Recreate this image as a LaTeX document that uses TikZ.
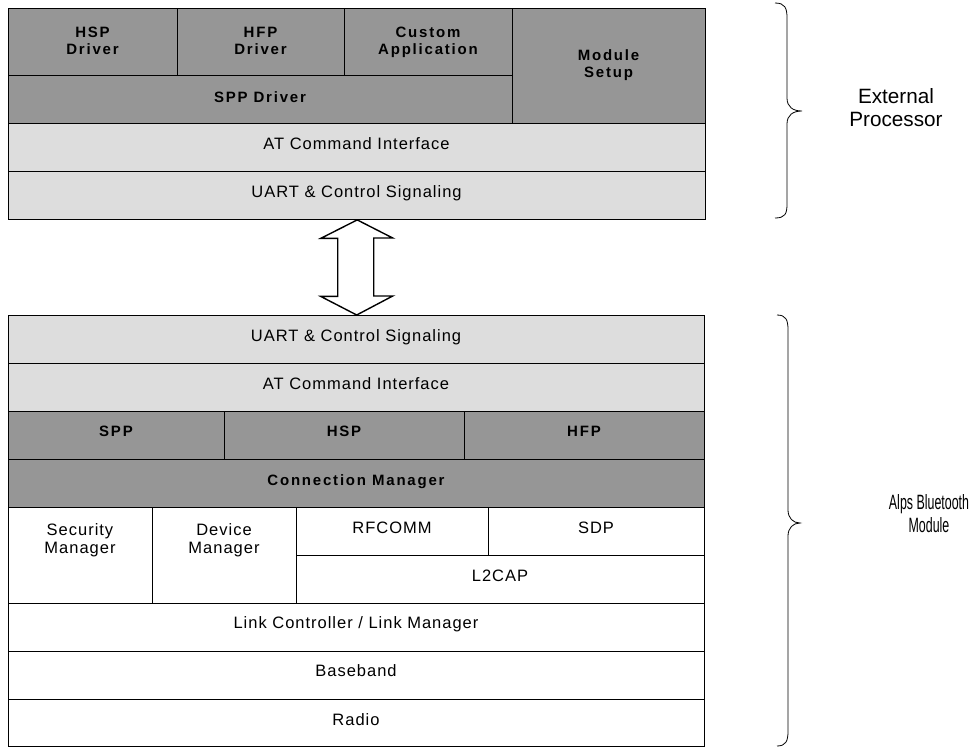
\documentclass[tikz,border=0pt]{standalone}
\usepackage{fontspec}
\setmainfont{Liberation Sans}
\newfontfamily\regbox[LetterSpace=6]{Liberation Sans}
\newfontfamily\boldbox[LetterSpace=12]{Liberation Sans}
\definecolor{darkfill}{RGB}{150,150,150}
\definecolor{lightfill}{RGB}{221,221,221}
\pgfdeclarelayer{background}
\pgfsetlayers{background,main}
\begin{document}
\begin{tikzpicture}[x=1pt,y=-1pt,
  box/.style={draw, line width=1.4pt, inner sep=0pt, anchor=north west},
  dark/.style={box, fill=darkfill},
  light/.style={box, fill=lightfill},
  plain/.style={box, fill=white},
  rtxt/.style={anchor=base, inner sep=0pt, font=\regbox\fontsize{16.5}{18.5}\selectfont},
  btxt/.style={anchor=base, inner sep=0pt, font=\boldbox\bfseries\fontsize{15}{17}\selectfont},
  stxt/.style={anchor=base, inner sep=0pt, font=\fontsize{20.7}{23.4}\selectfont},
  brace/.style={draw, line width=0.8pt},
  link/.style={draw, line width=1.4pt, fill=white, line join=miter}
]
\useasboundingbox (0,0) rectangle (969,747);

% ---------- External processor stack ----------
\node[dark, minimum width=169pt, minimum height=67pt] (hsp) at (8,8) {};
\node[dark, minimum width=167pt, minimum height=67pt] (hfp) at (177,8) {};
\node[dark, minimum width=168pt, minimum height=67pt] (custom) at (344,8) {};
\node[dark, minimum width=193pt, minimum height=115pt] (module) at (512,8) {};
\node[dark, minimum width=504pt, minimum height=48pt] (sppdrv) at (8,75) {};
\node[light, minimum width=697pt, minimum height=48pt] (at1) at (8,123) {};
\node[light, minimum width=697pt, minimum height=47.5pt] (uart1) at (8,171) {};

\node[btxt] (thsp) at (92.5,37) {\begin{tabular}[t]{@{}c@{}}HSP\\Driver\end{tabular}};
\node[btxt] (thfp) at (260.5,37) {\begin{tabular}[t]{@{}c@{}}HFP\\Driver\end{tabular}};
\node[btxt] (tcustom) at (428,37) {\begin{tabular}[t]{@{}c@{}}Custom\\Application\end{tabular}};
\node[btxt] (tmodule) at (608.5,60) {\begin{tabular}[t]{@{}c@{}}Module\\Setup\end{tabular}};
\node[btxt] (tsppdrv) at (260,102) {SPP Driver};
\node[rtxt] (tat1) at (356.5,149) {AT Command Interface};
\node[rtxt] (tuart1) at (356.5,197.5) {UART \& Control Signaling};

% ---------- Alps Bluetooth module stack ----------
\node[light, minimum width=696pt, minimum height=48pt] (uart2) at (8,315) {};
\node[light, minimum width=696pt, minimum height=48pt] (at2) at (8,363) {};
\node[dark, minimum width=216pt, minimum height=48pt] (spp) at (8,411) {};
\node[dark, minimum width=240pt, minimum height=48pt] (hsp2) at (224,411) {};
\node[dark, minimum width=240pt, minimum height=48pt] (hfp2) at (464,411) {};
\node[dark, minimum width=696pt, minimum height=48pt] (cm) at (8,459) {};
\node[plain, minimum width=144pt, minimum height=96pt] (sec) at (8,507) {};
\node[plain, minimum width=144pt, minimum height=96pt] (dev) at (152,507) {};
\node[plain, minimum width=192pt, minimum height=48pt] (rfcomm) at (296,507) {};
\node[plain, minimum width=216pt, minimum height=48pt] (sdp) at (488,507) {};
\node[plain, minimum width=408pt, minimum height=48pt] (l2cap) at (296,555) {};
\node[plain, minimum width=696pt, minimum height=48pt] (lc) at (8,603) {};
\node[plain, minimum width=696pt, minimum height=48pt] (bb) at (8,651) {};
\node[plain, minimum width=696pt, minimum height=46.5pt] (radio) at (8,699) {};

\node[rtxt] (tuart2) at (356,341.7) {UART \& Control Signaling};
\node[rtxt] (tat2) at (356,389.3) {AT Command Interface};
\node[btxt] (tspp) at (116,436.7) {SPP};
\node[btxt] (thsp2) at (344,436.7) {HSP};
\node[btxt] (thfp2) at (584,436.7) {HFP};
\node[btxt] (tcm) at (356,485.7) {Connection Manager};
\node[rtxt] (tsec) at (80,535) {\begin{tabular}[t]{@{}c@{}}Security\\Manager\end{tabular}};
\node[rtxt] (tdev) at (224,535) {\begin{tabular}[t]{@{}c@{}}Device\\Manager\end{tabular}};
\node[rtxt] (trfcomm) at (392,533.3) {RFCOMM};
\node[rtxt] (tsdp) at (596,533.3) {SDP};
\node[rtxt] (tl2cap) at (500,581.7) {L2CAP};
\node[rtxt] (tlc) at (356,628.3) {Link Controller / Link Manager};
\node[rtxt] (tbb) at (356,676.7) {Baseband};
\node[rtxt] (tradio) at (356,725) {Radio};

% ---------- link between the stacks ----------
\begin{pgfonlayer}{background}
\fill[white] (0,0) rectangle (969,747);
\coordinate (atop) at (uart1.south);
\coordinate (abot) at (uart2.north);
\draw[link] (atop) -- ++(-36.5,18.5) -- ++(17,0) -- ++(0,58) -- ++(-17,0) -- (abot)
  -- ++(36,-19) -- ++(-19,0) -- ++(0,-58) -- ++(19,0) -- cycle;
\end{pgfonlayer}

% ---------- braces ----------
\draw[brace] (775,3) .. controls (785,3) and (787,8) .. (787,18) -- (787,98)
  .. controls (787,107) and (793,111) .. (802,111)
  .. controls (793,111) and (787,115) .. (787,124) -- (787,204)
  .. controls (787,214) and (785,218) .. (775,218);
\draw[brace] (777,315) .. controls (786,315) and (788,320) .. (788,330) -- (788,510)
  .. controls (788,518) and (793,523) .. (800,523)
  .. controls (793,523) and (788,528) .. (788,536) -- (788,731)
  .. controls (788,741) and (786,746) .. (777,746);

\node[stxt] (text) at (896,103.3) {\begin{tabular}[t]{@{}c@{}}External\\Processor\end{tabular}};
\node[stxt] (talps) at (929,509) {\scalebox{0.6}[1]{\begin{tabular}[t]{@{}c@{}}Alps Bluetooth\\Module\end{tabular}}};
\end{tikzpicture}
\end{document}
